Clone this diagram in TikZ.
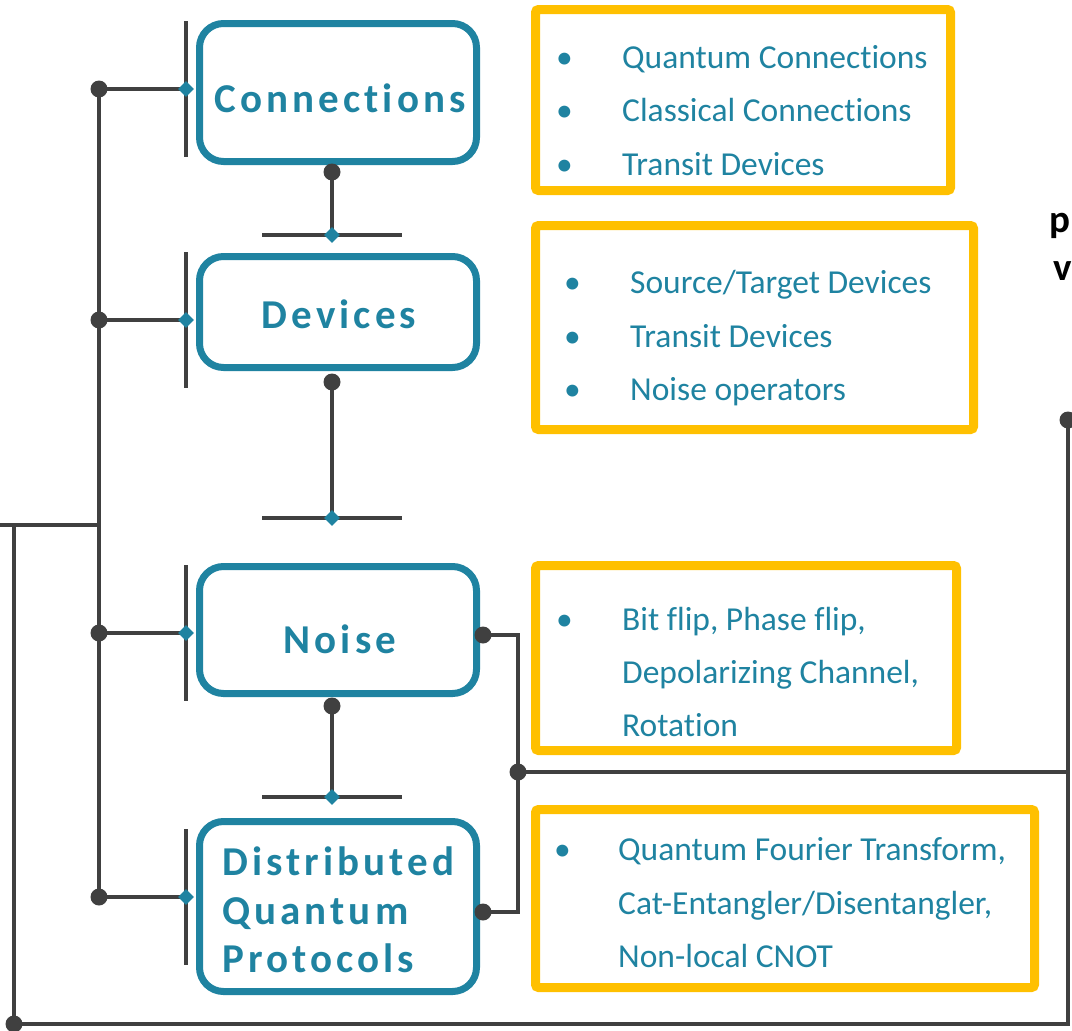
\documentclass[tikz,border=0pt]{standalone}
\usepackage{fontspec}
\setmainfont{Carlito}[Ligatures=NoCommon]
\newfontfamily\spacedfont{Carlito}[LetterSpace=10, Ligatures=NoCommon]
\usetikzlibrary{shapes.geometric, backgrounds}
\definecolor{qteal}{HTML}{1F83A1}
\definecolor{qyellow}{HTML}{FFC000}
\definecolor{qgray}{HTML}{404040}

\begin{document}
\begin{tikzpicture}[x=1pt,y=-1pt,
  titlebox/.style={draw=qteal, line width=7pt, rounded corners=24pt, minimum width=277pt},
  title/.style={text=qteal, inner sep=0pt, font=\spacedfont\bfseries\fontsize{41}{48.5}\selectfont},
  listbox/.style={draw=qyellow, line width=9pt, rounded corners=3pt},
  item/.style={anchor=base west, inner sep=0pt, text=qteal, font=\fontsize{33.5}{53.5}\selectfont},
  dot/.style={circle, fill=qgray, inner sep=0pt, minimum size=17pt},
  joint/.style={diamond, fill=qteal, inner sep=0pt, minimum size=16pt},
  wire/.style={qgray, line width=4pt}]
\useasboundingbox (0,0) rectangle (1072,1031);
% Coordinates
\coordinate (in)  at (0,525);
\coordinate (bus) at (99,525);
\coordinate (lp)  at (14,525);
\coordinate (rb)  at (1068,1024);
\coordinate (rm)  at (1068,772);
\coordinate (nr)  at (518,635);
\coordinate (pr)  at (518,912);
% Boxes
\node[titlebox, minimum height=138pt] (con) at (338,92.5)  {};
\node[titlebox, minimum height=111pt] (dev) at (338,312)   {};
\node[titlebox, minimum height=127pt] (noi) at (338,630)   {};
\node[titlebox, minimum height=170pt] (dqp) at (338,906.5) {};
\node[title] (contitle) at (340,98)  {Connections};
\node[title] (devtitle) at (339,314) {Devices};
\node[title] (noititle) at (340,639) {Noise};
\node[title, anchor=base west] (dqp1) at (222,875) {Distributed};
\node[title, anchor=base west] (dqp2) at (222,924) {Quantum};
\node[title, anchor=base west] (dqp3) at (222,972) {Protocols};
\node[listbox, minimum width=415pt, minimum height=181pt] (conlist) at (743,100)   {};
\node[listbox, minimum width=438pt, minimum height=204pt] (devlist) at (754.5,327.5) {};
\node[listbox, minimum width=421pt, minimum height=185pt] (noilist) at (746,658)   {};
\node[listbox, minimum width=499pt, minimum height=178pt] (dqplist) at (785,898.5) {};
% Items
\node[item] (c1) at (556,68)  {\makebox[66pt][l]{•}Quantum Connections};
\node[item] (c2) at (556,121) {\makebox[66pt][l]{•}Classical Connections};
\node[item] (c3) at (556,175) {\makebox[66pt][l]{•}Transit Devices};
\node[item] (d1) at (564,293) {\makebox[66pt][l]{•}Source/Target Devices};
\node[item] (d2) at (564,347) {\makebox[66pt][l]{•}Transit Devices};
\node[item] (d3) at (564,400) {\makebox[66pt][l]{•}Noise operators};
\node[item] (n1) at (556,630) {\makebox[66pt][l]{•}Bit flip, Phase flip,};
\node[item] (n2) at (622,683) {Depolarizing Channel,};
\node[item] (n3) at (622,736) {Rotation};
\node[item] (p1) at (554,860) {\makebox[64pt][l]{•}Quantum Fourier Transform,};
\node[item] (p2) at (618,914) {Cat-Entangler/Disentangler,};
\node[item] (p3) at (618,967) {Non-local CNOT};
\node[anchor=base west, inner sep=0pt, font=\bfseries\fontsize{39}{40}\selectfont] (pt) at (1049,232) {p};
\node[anchor=base west, inner sep=0pt, font=\bfseries\fontsize{39}{40}\selectfont] (vt) at (1053,280) {v};
% Joints
\node[joint] (jc) at (186,89)  {};
\node[joint] (jd) at (186,320) {};
\node[joint] (jn) at (186,633) {};
\node[joint] (jp) at (186,897) {};
\node[joint] (kd) at (332,235) {};
\node[joint] (kn) at (332,518) {};
\node[joint] (kp) at (332,797) {};
\node[dot] (bc) at (99,89)  {};
\node[dot] (bd) at (99,320) {};
\node[dot] (bn) at (99,633) {};
\node[dot] (bp) at (99,897) {};
\node[dot] (sc) at (332,172) {};
\node[dot] (sd) at (332,382) {};
\node[dot] (sn) at (332,706) {};
\node[dot] (on) at (483,635) {};
\node[dot] (op) at (483,912) {};
\node[dot] (om) at (518,772) {};
\node[dot] (ob) at (14,1024) {};
\node[dot] (ot) at (1068,420) {};
% Wires
\begin{scope}[on background layer]
\draw[wire] (bc.center) -- (bp.center);
\draw[wire] (in) -- (bus);
\draw[wire] (lp) -- (ob.center) -- (rb) -- (ot.center);
\foreach \b/\j in {bc/jc, bd/jd, bn/jn, bp/jp}
  \draw[wire] (\b.center) -- (\j.center) (\j.center) ++(0,-68) -- ++(0,136);
\foreach \s/\k in {sc/kd, sd/kn, sn/kp}
  \draw[wire] (\s.center) -- (\k.center) (\k.center) ++(-70,0) -- ++(140,0);
\draw[wire] (on.center) -- (nr) -- (pr) -- (op.center);
\draw[wire] (om.center) -- (rm);
\end{scope}
\end{tikzpicture}
\end{document}
